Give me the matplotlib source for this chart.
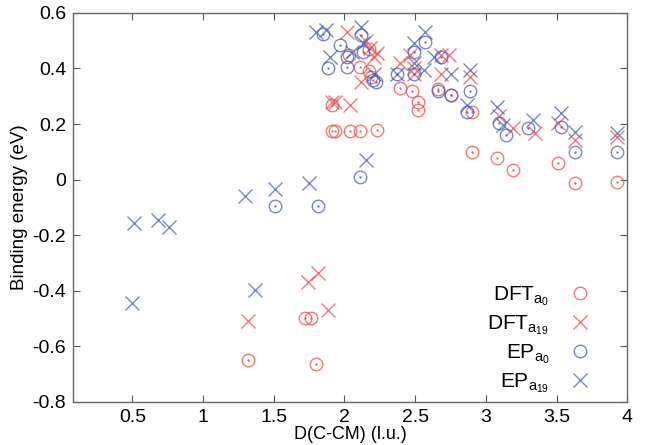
import matplotlib
matplotlib.use("Agg")
import matplotlib.pyplot as plt

plt.rcParams['font.family'] = ['Liberation Sans', 'DejaVu Sans']
plt.rcParams['mathtext.fontset'] = 'custom'
plt.rcParams['mathtext.rm'] = 'Liberation Sans'
plt.rcParams['mathtext.it'] = 'Liberation Sans'

# DFT a0 (red circles)
dft_a0_x = [1.32, 1.72, 1.76, 1.80, 1.91, 1.91, 1.93, 2.04, 2.11, 2.23, 2.03, 2.11, 2.17, 2.19, 2.17,
            2.39, 2.48, 2.52, 2.52, 2.66, 2.75, 2.90, 2.90, 3.08, 3.19, 3.51, 3.63, 3.93]
dft_a0_y = [-0.65, -0.50, -0.50, -0.665, 0.27, 0.175, 0.175, 0.175, 0.175, 0.18, 0.45, 0.405, 0.39, 0.37, 0.47,
            0.33, 0.32, 0.28, 0.25, 0.325, 0.305, 0.245, 0.10, 0.078, 0.035, 0.06, -0.012, -0.008]
# DFT a19 (red crosses)
dft_a19_x = [1.32, 1.74, 1.81, 1.88, 1.91, 1.93, 2.04, 2.02, 2.18, 2.23, 2.21, 2.12, 2.39, 2.46, 2.49,
             2.49, 2.68, 2.74, 2.68, 2.89, 3.09, 3.19, 3.35, 3.51, 3.63, 3.93, 2.15]
dft_a19_y = [-0.51, -0.37, -0.335, -0.47, 0.28, 0.28, 0.27, 0.53, 0.475, 0.456, 0.44, 0.35, 0.42, 0.45, 0.40,
             0.38, 0.45, 0.45, 0.38, 0.37, 0.23, 0.186, 0.168, 0.204, 0.143, 0.155, 0.50]
# EP a0 (blue circles)
ep_a0_x = [1.51, 1.81, 2.11, 1.85, 2.12, 1.97, 1.88, 2.02, 2.02, 2.13, 2.20, 2.22, 2.37, 2.57, 2.49,
           2.49, 2.68, 2.66, 2.75, 2.89, 2.87, 3.09, 3.14, 3.30, 3.53, 3.63, 3.93]
ep_a0_y = [-0.094, -0.094, 0.01, 0.525, 0.52, 0.485, 0.40, 0.44, 0.405, 0.46, 0.36, 0.35, 0.38, 0.495, 0.46,
           0.38, 0.44, 0.32, 0.305, 0.32, 0.245, 0.204, 0.16, 0.186, 0.19, 0.10, 0.10]
# EP a19 (blue crosses)
ep_a19_x = [0.51, 0.68, 0.76, 0.50, 1.30, 1.51, 1.75, 1.37, 2.15, 1.80, 1.87, 2.12, 1.90, 2.13, 2.21,
            2.37, 2.57, 2.49, 2.49, 2.56, 2.63, 2.75, 2.89, 2.87, 3.08, 3.12, 3.33, 3.53, 3.63, 3.93, 2.05]
ep_a19_y = [-0.155, -0.145, -0.17, -0.443, -0.058, -0.033, -0.012, -0.397, 0.07, 0.53, 0.54, 0.55, 0.44, 0.49, 0.38,
            0.38, 0.53, 0.49, 0.42, 0.395, 0.44, 0.38, 0.395, 0.27, 0.26, 0.195, 0.215, 0.24, 0.17, 0.168, 0.46]

xticks = [0.5, 1, 1.5, 2, 2.5, 3, 3.5, 4]
xticklabels = ['0.5', '1', '1.5', '2', '2.5', '3', '3.5', '4']
yticks = [-0.8, -0.6, -0.4, -0.2, 0, 0.2, 0.4, 0.6]
yticklabels = ['-0.8', '-0.6', '-0.4', '-0.2', '0', '0.2', '0.4', '0.6']

red = '#f04a4a'
blue = '#4a5fb5'
alpha = 0.75

fig = plt.figure(figsize=(6.46, 4.45), dpi=100)
ax = fig.add_axes([0.113, 0.097, 0.858, 0.874])

def circles(x, y, c, label):
    ax.plot(x, y, 'o', ms=9, mfc='none', mec=c, mew=1.0, alpha=alpha, label=label)
    ax.plot(x, y, '.', ms=1.5, color=c, alpha=alpha)

def crosses(x, y, c, label):
    ax.plot(x, y, 'x', ms=10, mec=c, mew=1.0, alpha=alpha, label=label)

circles(dft_a0_x, dft_a0_y, red, r'DFT$_{a_0}$')
crosses(dft_a19_x, dft_a19_y, red, r'DFT$_{a_{19}}$')
circles(ep_a0_x, ep_a0_y, blue, r'EP$_{a_0}$')
crosses(ep_a19_x, ep_a19_y, blue, r'EP$_{a_{19}}$')

ax.set_xlim(0.08, 4)
ax.set_ylim(-0.8, 0.6)
ax.set_xticks(xticks)
ax.set_xticklabels(xticklabels)
ax.set_yticks(yticks)
ax.set_yticklabels(yticklabels)
ax.tick_params(direction='in', top=True, right=True, labelsize=14, length=5, color='#555555', pad=5)
for s in ax.spines.values():
    s.set_color('#666666')
    s.set_linewidth(1.0)

ax.set_xlabel('D(C-CM) (l.u.)', fontsize=13, labelpad=0)
ax.set_ylabel('Binding energy (eV)', fontsize=13.5)
ax.yaxis.set_label_coords(-0.082, 0.5)

leg = ax.legend(loc='lower right', bbox_to_anchor=(0.972, -0.03), markerfirst=False, frameon=False,
                fontsize=15, labelspacing=0.25, handlelength=1.2, handletextpad=0.9, numpoints=1)

fig.savefig('out.png', dpi=100)
